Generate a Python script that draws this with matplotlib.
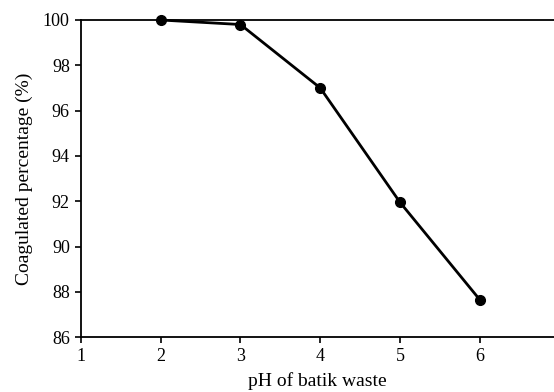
import matplotlib
matplotlib.use("Agg")
import matplotlib.pyplot as plt

ph = [2, 3, 4, 5, 6]
coagulated = [100.0, 99.8, 97.0, 91.95, 87.65]
x_ticks = [1, 2, 3, 4, 5, 6]
y_ticks = [86, 88, 90, 92, 94, 96, 98, 100]

plt.rcParams['font.family'] = ['Liberation Serif', 'DejaVu Serif']

fig = plt.figure(figsize=(5.54, 3.92), dpi=100)
ax = fig.add_axes([0.146, 0.140, 0.854, 0.809])

ax.plot(ph, coagulated, color='black', lw=2.0, marker='o', ms=7, clip_on=False, zorder=5)

ax.set_xlim(1, 6.93)
ax.set_ylim(86, 100)
ax.set_xticks(x_ticks)
ax.set_yticks(y_ticks)
ax.tick_params(direction='out', length=4, width=1.2, labelsize=13, colors='black', pad=4)
for s in ['left', 'bottom', 'top']:
    ax.spines[s].set_linewidth(1.3)
ax.spines['right'].set_visible(False)

ax.set_xlabel('pH of batik waste', fontsize=14, labelpad=5)
ax.set_ylabel('Coagulated percentage (%)', fontsize=14, labelpad=7)

fig.savefig('out.png', dpi=100)
